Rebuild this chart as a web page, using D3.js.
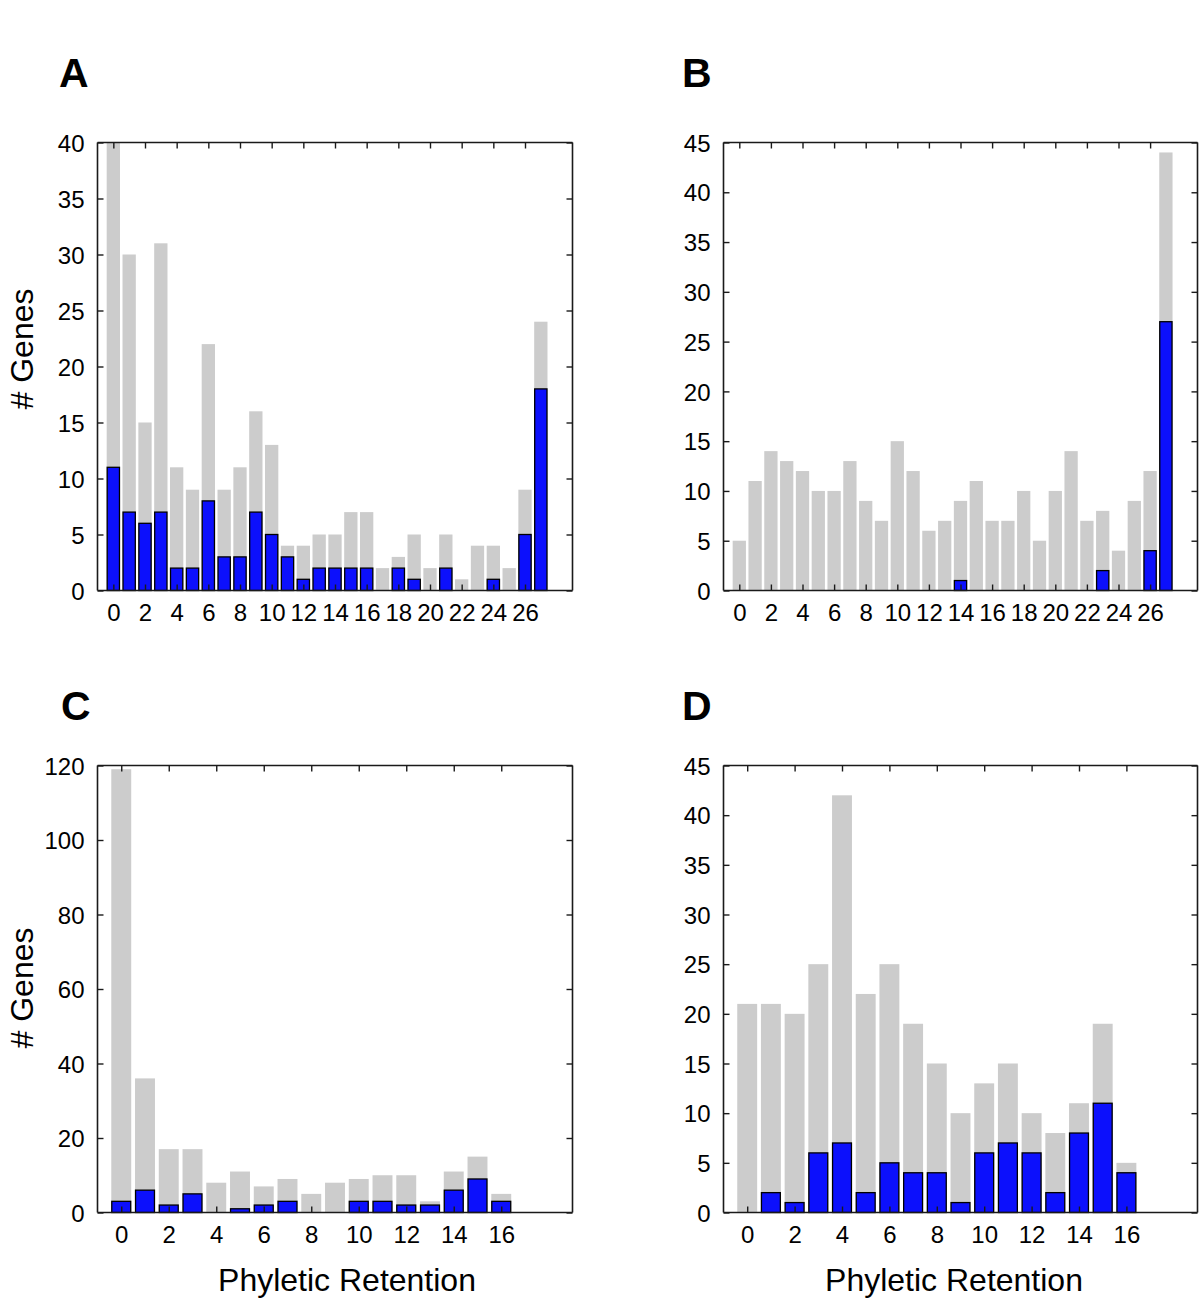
<!DOCTYPE html>
<html>
<head>
<meta charset="utf-8">
<script src="https://cdn.jsdelivr.net/npm/d3@7"></script>
<style>
  html, body { margin: 0; padding: 0; background: #fff; }
  svg { display: block; }
  text { font-family: "Liberation Sans", Arial, Helvetica, sans-serif; fill: #000; }
</style>
</head>
<body>
<svg id="chart" width="1200" height="1301"></svg>
<script>
// ---- Data ----
const retentionA = d3.range(0, 28);
const totalA = [40, 30, 15, 31, 11, 9, 22, 9, 11, 16, 13, 4, 4, 5, 5, 7, 7, 2, 3, 5, 2, 5, 1, 4, 4, 2, 9, 24];
const blueA  = [11, 7, 6, 7, 2, 2, 8, 3, 3, 7, 5, 3, 1, 2, 2, 2, 2, 0, 2, 1, 0, 2, 0, 0, 1, 0, 5, 18];

const retentionB = d3.range(0, 28);
const totalB = [5, 11, 14, 13, 12, 10, 10, 13, 9, 7, 15, 12, 6, 7, 9, 11, 7, 7, 10, 5, 10, 14, 7, 8, 4, 9, 12, 44];
const blueB  = [0, 0, 0, 0, 0, 0, 0, 0, 0, 0, 0, 0, 0, 0, 1, 0, 0, 0, 0, 0, 0, 0, 0, 2, 0, 0, 4, 27];

const retentionC = d3.range(0, 17);
const totalC = [119, 36, 17, 17, 8, 11, 7, 9, 5, 8, 9, 10, 10, 3, 11, 15, 5];
const blueC  = [3, 6, 2, 5, 0, 1, 2, 3, 0, 0, 3, 3, 2, 2, 6, 9, 3];

const retentionD = d3.range(0, 17);
const totalD = [21, 21, 20, 25, 42, 22, 25, 19, 15, 10, 13, 15, 10, 8, 11, 19, 5];
const blueD  = [0, 2, 1, 6, 7, 2, 5, 4, 4, 1, 6, 7, 6, 2, 8, 11, 4];

const xTicksAB = d3.range(0, 27, 2);   // 0..26
const xTicksCD = d3.range(0, 17, 2);   // 0..16
const yTicksA = d3.range(0, 41, 5);
const yTicksB = d3.range(0, 46, 5);
const yTicksC = d3.range(0, 121, 20);
const yTicksD = d3.range(0, 46, 5);

const panelLetters = ["A", "B", "C", "D"];
const yTitle = "# Genes";
const xTitle = "Phyletic Retention";

// ---- Drawing ----
const svg = d3.select("#chart");
const GRAY = "#cccccc", BLUE = "#0c10fc", AXIS = "#1a1a1a";
const tickFont = 24, titleFont = 32;

function panel(cfg) {
  const g = svg.append("g");
  const x = d3.scaleLinear().domain(cfg.xDomain).range([cfg.left, cfg.right]);
  const y = d3.scaleLinear().domain(cfg.yDomain).range([cfg.bottom, cfg.top]);
  const step = x(1) - x(0);
  const bw = step * 0.84;

  g.selectAll("rect.tot").data(cfg.cats).enter().append("rect")
    .attr("class", "tot")
    .attr("x", d => x(d) - bw / 2)
    .attr("width", bw)
    .attr("y", (d, i) => y(cfg.total[i]))
    .attr("height", (d, i) => y(0) - y(cfg.total[i]))
    .attr("fill", GRAY);

  const blueData = cfg.cats.map((d, i) => ({ c: d, v: cfg.blue[i] })).filter(o => o.v > 0);
  g.selectAll("rect.blue").data(blueData).enter().append("rect")
    .attr("class", "blue")
    .attr("x", d => x(d.c) - bw / 2 + 0.5)
    .attr("width", bw - 1)
    .attr("y", d => y(d.v))
    .attr("height", d => y(0) - y(d.v))
    .attr("fill", BLUE)
    .attr("stroke", "#000")
    .attr("stroke-width", 1.3);

  const tl = 6;
  const axB = g.append("g").attr("transform", `translate(0,${cfg.bottom})`)
    .call(d3.axisBottom(x).tickValues(cfg.xTicks).tickSize(-tl).tickPadding(13).tickFormat(d3.format("d")));
  const axT = g.append("g").attr("transform", `translate(0,${cfg.top})`)
    .call(d3.axisTop(x).tickValues(cfg.xTicks).tickSize(-tl).tickFormat(""));
  const axL = g.append("g").attr("transform", `translate(${cfg.left},0)`)
    .call(d3.axisLeft(y).tickValues(cfg.yTicks).tickSize(-tl).tickPadding(13).tickFormat(d3.format("d")));
  const axR = g.append("g").attr("transform", `translate(${cfg.right},0)`)
    .call(d3.axisRight(y).tickValues(cfg.yTicks).tickSize(-tl).tickFormat(""));
  [axB, axT, axL, axR].forEach(a => {
    a.select(".domain").attr("stroke", AXIS).attr("stroke-width", 1.6);
    a.selectAll(".tick line").attr("stroke", AXIS).attr("stroke-width", 1.4);
    a.selectAll("text").style("font-size", tickFont + "px").attr("fill", "#000")
      .style("font-family", '"Liberation Sans", Arial, sans-serif');
  });
  [axB, axT].forEach(a => a.select(".domain").attr("d", `M${cfg.left},0H${cfg.right}`));
  [axL, axR].forEach(a => a.select(".domain").attr("d", `M0,${cfg.top}V${cfg.bottom}`));
  axL.selectAll("text").attr("dy", "0.36em");

  g.append("text").attr("x", cfg.letterX).attr("y", cfg.letterY)
    .style("font-size", "41px").style("font-weight", "bold").text(cfg.letter);

  if (cfg.yTitle) {
    g.append("text")
      .attr("transform", `translate(${cfg.yTitleX},${cfg.yTitleY}) rotate(-90)`)
      .attr("text-anchor", "middle")
      .attr("dy", "0.36em")
      .style("font-size", titleFont + "px")
      .text(cfg.yTitle);
  }
  if (cfg.xTitle) {
    g.append("text")
      .attr("x", cfg.xTitleX).attr("y", cfg.xTitleY)
      .attr("text-anchor", "middle")
      .style("font-size", titleFont + "px")
      .text(cfg.xTitle);
  }
}

panel({ cats: retentionA, total: totalA, blue: blueA, xDomain: [-1, 29], yDomain: [0, 40],
  xTicks: xTicksAB, yTicks: yTicksA, left: 97.5, right: 572.5, top: 142.5, bottom: 590.5,
  letter: panelLetters[0], letterX: 59, letterY: 87, yTitle: yTitle, yTitleX: 21, yTitleY: 349 });
panel({ cats: retentionB, total: totalB, blue: blueB, xDomain: [-1, 29], yDomain: [0, 45],
  xTicks: xTicksAB, yTicks: yTicksB, left: 723.5, right: 1197.5, top: 142.5, bottom: 590.5,
  letter: panelLetters[1], letterX: 682, letterY: 87 });
panel({ cats: retentionC, total: totalC, blue: blueC, xDomain: [-1, 19], yDomain: [0, 120],
  xTicks: xTicksCD, yTicks: yTicksC, left: 97.5, right: 572.5, top: 765.5, bottom: 1212.5,
  letter: panelLetters[2], letterX: 61, letterY: 720, yTitle: yTitle, yTitleX: 21, yTitleY: 988,
  xTitle: xTitle, xTitleX: 347, xTitleY: 1291 });
panel({ cats: retentionD, total: totalD, blue: blueD, xDomain: [-1, 19], yDomain: [0, 45],
  xTicks: xTicksCD, yTicks: yTicksD, left: 723.5, right: 1197.5, top: 765.5, bottom: 1212.5,
  letter: panelLetters[3], letterX: 682, letterY: 720,
  xTitle: xTitle, xTitleX: 954, xTitleY: 1291 });
</script>
</body>
</html>
